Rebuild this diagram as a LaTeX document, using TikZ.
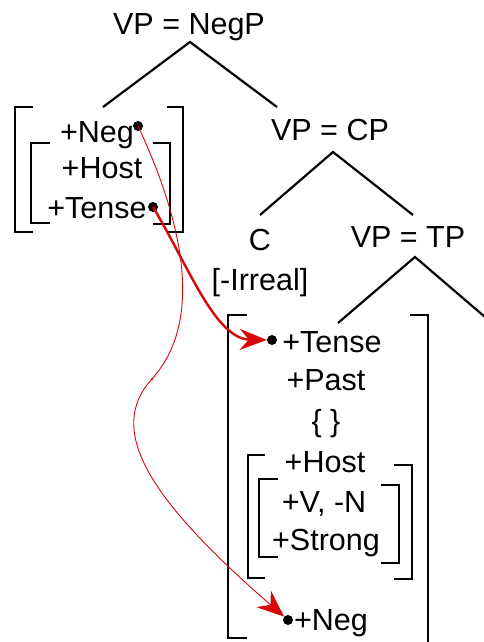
\documentclass[tikz,border=0pt]{standalone}
\usepackage{fontspec}
\setmainfont{Liberation Sans}
\usetikzlibrary{arrows.meta}
\definecolor{arrred}{RGB}{214,8,8}
\begin{document}
\begin{tikzpicture}[x=1pt,y=-1pt,
  lbl/.style={anchor=base,inner sep=0pt,font=\fontsize{30.5}{34}\selectfont},
  treeline/.style={line width=2.2pt},
  brk/.style={line width=2.6pt},
  dot/.style={circle,fill=black,inner sep=0pt,minimum size=10pt},
  thickarr/.style={arrred,line width=2.4pt,-{Stealth[length=27pt,width=21pt,inset=9pt]}},
  thinarr/.style={arrred,line width=0.9pt,-{Stealth[length=27pt,width=22pt,inset=9pt]}}]
\useasboundingbox (0,0) rectangle (484,642);
\begin{scope}
\clip (0,0) rectangle (484,642);
% labels
\node[lbl] (np) at (189,35) {VP = NegP};
\node[lbl] (cp) at (330,140) {VP = CP};
\node[lbl] (lneg) at (97,142) {+Neg};
\node[lbl] (lhost) at (102,178) {+Host};
\node[lbl] (ltense) at (97,218) {+Tense};
\node[lbl] (c) at (260,250) {C};
\node[lbl] (irr) at (260,290) {[-Irreal]};
\node[lbl] (tp) at (408,247) {VP = TP};
\node[lbl] (rtense) at (332,352) {+Tense};
\node[lbl] (past) at (326,390) {+Past};
\node[lbl] (brace) at (326,431) {\{ \}};
\node[lbl] (rhost) at (325,472) {+Host};
\node[lbl] (vn) at (324,512) {+V, -N};
\node[lbl] (strong) at (326,550) {+Strong};
\node[lbl] (rneg) at (331,630) {+Neg};
% tree coordinates
\coordinate (npA) at (190,42);
\coordinate (npL) at (103,107);
\coordinate (npR) at (277,107);
\coordinate (cpA) at (333,152);
\coordinate (cpL) at (260,215);
\coordinate (cpR) at (413,215);
\coordinate (tpA) at (415,257);
\coordinate (tpL) at (338,323);
\coordinate (tpR) at (492,323);
\draw[treeline] (npL) -- (npA) -- (npR);
\draw[treeline] (cpL) -- (cpA) -- (cpR);
\draw[treeline] (tpL) -- (tpA) -- (tpR);
% brackets left group
\draw[brk] (33,107) -- (15,107) -- (15,232) -- (33,232);
\draw[brk] (167,107) -- (183,107) -- (183,232) -- (167,232);
\draw[brk] (50,143) -- (31,143) -- (31,223) -- (50,223);
\draw[brk] (153,143) -- (170,143) -- (170,224) -- (153,224);
% big bracket
\draw[brk] (247,315) -- (228,315) -- (228,638) -- (247,638);
\draw[brk] (410,315) -- (428,315) -- (428,645);
% middle bracket
\draw[brk] (265,455) -- (248,455) -- (248,578) -- (265,578);
\draw[brk] (394,465) -- (412,465) -- (412,579) -- (394,579);
% inner bracket
\draw[brk] (278,479) -- (259,479) -- (259,557) -- (278,557);
\draw[brk] (381,485) -- (399,485) -- (399,563) -- (381,563);
% dots
\node[dot] (d1) at (138,126) {};
\node[dot] (d2) at (153,207) {};
\node[dot] (d3) at (272,340) {};
\node[dot] (d4) at (288,620) {};
\coordinate (mid) at (152,379);
% arrows
\draw[thickarr] (d2.center) .. controls (188,265) and (215,339) .. (d3);
\draw[thinarr] (d1.center) .. controls (182,220) and (205,320) .. (mid)
   .. controls (105,430) and (150,500) .. (d4);
\fill[arrred] (mid) circle (1.4pt);
\end{scope}
\end{tikzpicture}
\end{document}
